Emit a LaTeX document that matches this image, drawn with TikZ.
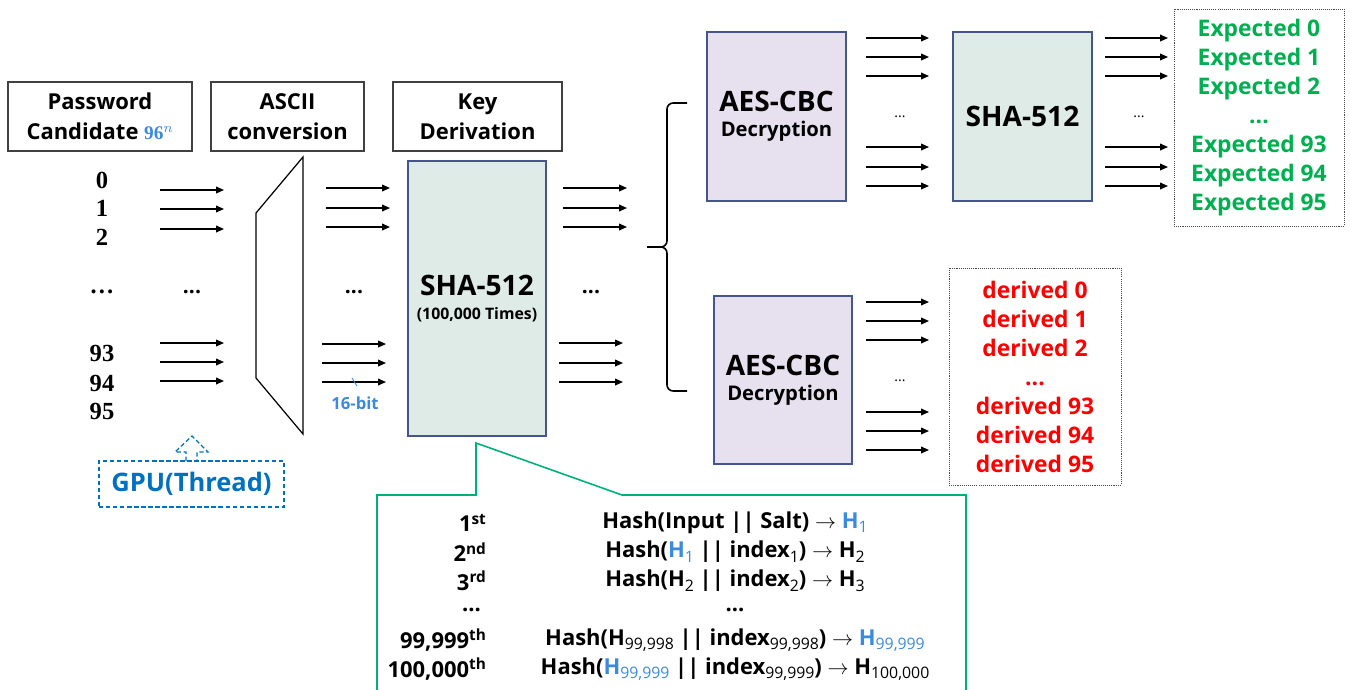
\documentclass[tikz,border=0pt]{standalone}
\usepackage{fontspec}
\setmainfont{Open Sans}
\newfontfamily\numfont{Liberation Serif}
\usetikzlibrary{positioning}
\usetikzlibrary{arrows.meta}

\definecolor{boxline}{RGB}{70,86,140}
\definecolor{shafill}{RGB}{222,235,231}
\definecolor{aesfill}{RGB}{231,224,239}
\definecolor{lightblue}{RGB}{58,138,222}
\definecolor{gpublue}{RGB}{0,112,192}
\definecolor{expgreen}{RGB}{0,176,80}
\definecolor{callgreen}{RGB}{0,176,122}

\newcommand{\hsub}[1]{\raisebox{-0.35ex}{\fontsize{9}{10}\selectfont\mdseries #1}}

\tikzset{
  hdr/.style={rectangle, draw=black!75, line width=0.6pt, minimum width=#1, minimum height=1.38cm, align=center, font=\fontsize{12.5}{17}\selectfont\bfseries},
  block/.style={rectangle, draw=boxline, line width=0.7pt, align=center, font=\bfseries},
  outbox/.style={rectangle, draw=black!70, dash pattern=on 0.6pt off 0.6pt, line width=0.5pt, align=center, font=\fontsize{13}{16.5}\selectfont\bfseries},
  arr/.style={-{Triangle[length=4.5pt,width=3.8pt]}, line width=0.8pt},
  numlbl/.style={font=\numfont\bfseries\fontsize{14}{16}\selectfont},
  bigdots/.style={font=\bfseries\fontsize{12}{14}\selectfont},
  smalldots/.style={font=\fontsize{8}{10}\selectfont},
  ordlbl/.style={anchor=east, font=\bfseries\fontsize{12.5}{15}\selectfont},
  hashlbl/.style={font=\bfseries\fontsize{12.5}{15}\selectfont}
}

\begin{document}
\begin{tikzpicture}[x=0.02cm, y=-0.02cm]

  \useasboundingbox (0,0) rectangle (1350,690);

  % Headers
  \node[hdr=3.68cm] (pwd) at (100,116.5) {Password\\Candidate {\color{lightblue}\numfont\fontsize{11}{12}\selectfont 96$^{n}$}};
  \node[hdr=3.06cm] (ascii) at (287.5,116.5) {ASCII\\conversion};
  \node[hdr=3.38cm] (kdf) at (477.5,116.5) {Key\\Derivation};

  % Candidates
  \foreach \y/\n [count=\i] in {180/0,208/1,237/2,292/\ldots,353/93,383/94,411/95}
    \node[numlbl] (num\i) at (102,\y) {\n};

  % ASCII conversion
  \draw[line width=0.7pt] (303,157) -- (256,213) -- (256,378) -- (303,434) -- cycle;

  % Arrows into and out of the converter
  \foreach \y in {190,209,229,343,362,381}
    \draw[arr] (160,\y) -- (224,\y);
  \foreach \y in {188,208,227}
    \draw[arr] (326,\y) -- (390,\y);
  \foreach \y in {344,363,382}
    \draw[arr] (322,\y) -- (386,\y);
  \node[bigdots] (dots1) at (192,292) {...};
  \node[bigdots] (dots2) at (354,292) {...};
  \draw[lightblue, line width=0.5pt] (352,378) -- (357,386);
  \node[text=lightblue, font=\bfseries\fontsize{9.5}{11}\selectfont] (bits) at (355,403) {16-bit};

  % Key derivation
  \node[block, fill=shafill, minimum width=2.76cm, minimum height=5.5cm] (sha) at (477,298.5)
    {{\fontsize{16}{19}\selectfont SHA-512}\\[2pt]{\fontsize{9}{11}\selectfont (100,000 Times)}};
  \foreach \y in {188,208,227}
    \draw[arr] (563,\y) -- (627,\y);
  \foreach \y in {343,363,382}
    \draw[arr] (559,\y) -- (623,\y);
  \node[bigdots] (dots3) at (591,292) {...};

  % Brace
  \draw[line width=0.9pt, rounded corners=3.5pt] (687,103) -| (667,247) -- (647,247);
  \draw[line width=0.9pt, rounded corners=3.5pt] (647,247) -- (667,247) |- (687,391);

  % Upper branch
  \node[block, fill=aesfill, minimum width=2.78cm, minimum height=3.38cm] (aes1) at (776.5,116.5)
    {{\fontsize{16}{19}\selectfont AES-CBC}\\[2.5pt]{\fontsize{11.5}{13}\selectfont Decryption}};
  \node[block, fill=shafill, minimum width=2.78cm, minimum height=3.38cm] (sha2) at (1022.5,116.5)
    {\fontsize{16}{19}\selectfont SHA-512};
  \node[outbox, text=expgreen, minimum width=3.4cm, minimum height=4.34cm] (expected) at (1259,117.5)
    {Expected 0\\Expected 1\\Expected 2\\...\\Expected 93\\Expected 94\\Expected 95};
  \foreach \y in {38,57,76,147,167,186} {
    \draw[arr] (866,\y) -- (929,\y);
    \draw[arr] (1105,\y) -- (1168,\y);
  }
  \node[smalldots] (dots4) at (900,117) {...};
  \node[smalldots] (dots5) at (1139,117) {...};

  % Lower branch
  \node[block, fill=aesfill, minimum width=2.76cm, minimum height=3.36cm] (aes2) at (783,380)
    {{\fontsize{16}{19}\selectfont AES-CBC}\\[2.5pt]{\fontsize{11.5}{13}\selectfont Decryption}};
  \node[outbox, text=red, minimum width=3.44cm, minimum height=4.34cm] (derived) at (1035,376.5)
    {derived 0\\derived 1\\derived 2\\...\\derived 93\\derived 94\\derived 95};
  \foreach \y in {302,321,340,412,431,450}
    \draw[arr] (866,\y) -- (929,\y);
  \node[smalldots] (dots6) at (900,381) {...};

  % GPU thread
  \node[draw=gpublue, dash pattern=on 2.5pt off 1.5pt, line width=0.7pt, minimum width=3.7cm, minimum height=0.92cm,
    text=gpublue, font=\bfseries\fontsize{14.5}{16}\selectfont] (gpu) at (191.5,484) {GPU(Thread)};
  \draw[gpublue, dash pattern=on 2.5pt off 1.5pt, line width=0.7pt]
    (186,461) -- (186,452) -- (175,452) -- (192,436) -- (208,452) -- (197,452) -- (197,461);

  % Iterations callout
  \coordinate (calltip) at (476,443);
  \draw[callgreen, line width=0.9pt] (377,691) -- (377,495) -- (476,495) -- (calltip) -- (622,495) -- (966,495) -- (966,691);

  \node[ordlbl] (ord1) at (493,523) {1\textsuperscript{st}};
  \node[ordlbl] (ord2) at (493,552) {2\textsuperscript{nd}};
  \node[ordlbl] (ord3) at (493,581) {3\textsuperscript{rd}};
  \node[ordlbl] (ord4) at (487,610) {...};
  \node[ordlbl] (ord5) at (493,640) {99,999\textsuperscript{th}};
  \node[ordlbl] (ord6) at (493,669) {100,000\textsuperscript{th}};

  \node[hashlbl] (hash1) at (735,523) {Hash(Input || Salt) $\rightarrow$ {\color{lightblue}H\hsub{1}}};
  \node[hashlbl] (hash2) at (735,552) {Hash({\color{lightblue}H\hsub{1}} || index\hsub{1}) $\rightarrow$ H\hsub{2}};
  \node[hashlbl] (hash3) at (735,581) {Hash(H\hsub{2} || index\hsub{2}) $\rightarrow$ H\hsub{3}};
  \node[hashlbl] (hash4) at (735,610) {...};
  \node[hashlbl] (hash5) at (735,640) {Hash(H\hsub{99,998} || index\hsub{99,998}) $\rightarrow$ {\color{lightblue}H\hsub{99,999}}};
  \node[hashlbl] (hash6) at (735,669) {Hash({\color{lightblue}H\hsub{99,999}} || index\hsub{99,999}) $\rightarrow$ H\hsub{100,000}};

\end{tikzpicture}
\end{document}
